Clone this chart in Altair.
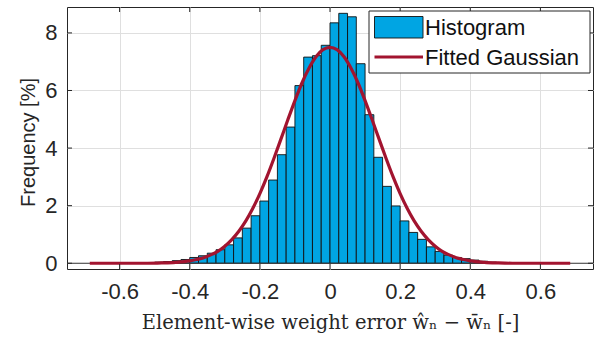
import altair as alt
import pandas as pd

# ---- data ----
bin_left = [-0.500, -0.475, -0.450, -0.425, -0.400, -0.375, -0.350, -0.325,
            -0.300, -0.275, -0.250, -0.225, -0.200, -0.175, -0.150, -0.125,
            -0.100, -0.075, -0.050, -0.025, 0.000, 0.025, 0.050, 0.075,
            0.100, 0.125, 0.150, 0.175, 0.200, 0.225, 0.250, 0.275,
            0.300, 0.325, 0.350, 0.375, 0.400, 0.425, 0.450, 0.475]
bin_right = [-0.475, -0.450, -0.425, -0.400, -0.375, -0.350, -0.325, -0.300,
             -0.275, -0.250, -0.225, -0.200, -0.175, -0.150, -0.125, -0.100,
             -0.075, -0.050, -0.025, 0.000, 0.025, 0.050, 0.075, 0.100,
             0.125, 0.150, 0.175, 0.200, 0.225, 0.250, 0.275, 0.300,
             0.325, 0.350, 0.375, 0.400, 0.425, 0.450, 0.475, 0.500]
freq = [0.04, 0.06, 0.09, 0.13, 0.20, 0.26, 0.35, 0.47,
        0.64, 0.88, 1.22, 1.65, 2.16, 2.89, 3.77, 4.73,
        6.17, 7.16, 7.21, 7.57, 8.35, 8.68, 8.56, 6.93,
        5.16, 3.68, 2.67, 1.99, 1.47, 1.07, 0.83, 0.57,
        0.41, 0.28, 0.20, 0.16, 0.11, 0.07, 0.04, 0.02]

gauss_x = [-0.685, -0.60, -0.52, -0.48, -0.44, -0.40, -0.38, -0.36, -0.34,
           -0.32, -0.30, -0.28, -0.26, -0.24, -0.22, -0.20, -0.18, -0.16,
           -0.14, -0.12, -0.10, -0.08, -0.06, -0.04, -0.02, 0.00,
           0.02, 0.04, 0.06, 0.08, 0.10, 0.12, 0.14, 0.16, 0.18, 0.20,
           0.22, 0.24, 0.26, 0.28, 0.30, 0.32, 0.34, 0.36, 0.38, 0.40,
           0.44, 0.48, 0.52, 0.60, 0.685]
gauss_y = [0.00, 0.00, 0.00, 0.01, 0.03, 0.08, 0.13, 0.19, 0.29,
           0.41, 0.59, 0.82, 1.11, 1.47, 1.91, 2.42, 3.00, 3.64,
           4.31, 4.99, 5.65, 6.26, 6.77, 7.17, 7.42, 7.50,
           7.42, 7.17, 6.77, 6.26, 5.65, 4.99, 4.31, 3.64, 3.00, 2.42,
           1.91, 1.47, 1.11, 0.82, 0.59, 0.41, 0.29, 0.19, 0.13, 0.08,
           0.03, 0.01, 0.00, 0.00, 0.00]

x_ticks = [-0.6, -0.4, -0.2, 0.0, 0.2, 0.4, 0.6]
y_ticks = [0, 2, 4, 6, 8]
legend_labels = ["Histogram", "Fitted Gaussian"]

# ---- layout / style ----
W, H = 526, 262
TXT = "#262626"
BAR = "#00A5E3"
RED = "#A2142F"
GRID = "#dfdfdf"

xs = alt.Scale(domain=[-0.75, 0.75], nice=False, zero=False)
ys = alt.Scale(domain=[-0.2, 8.9], nice=False, zero=False)

x_axis = alt.Axis(
    values=x_ticks, grid=True, gridColor=GRID, gridWidth=1, domain=False,
    ticks=False, tickSize=0, labelPadding=12, labelFont="Liberation Sans",
    labelFontSize=22, labelColor=TXT,
    labelExpr="datum.value == 0 ? '0' : (datum.value < 0 ? '-' + format(-datum.value, '.1f') : format(datum.value, '.1f'))",
    title="Element-wise weight error ŵₙ − w̄ₙ [-]",
    titleFont="DejaVu Serif", titleFontSize=19.5, titleFontWeight="normal",
    titleColor=TXT, titleX=W / 2, titleY=53, titleBaseline="middle",
    titleAlign="center",
)
y_axis = alt.Axis(
    values=y_ticks, grid=True, gridColor=GRID, gridWidth=1, domain=False,
    ticks=False, tickSize=0, labelPadding=10, labelFont="Liberation Sans",
    labelFontSize=22, labelColor=TXT,
    title="Frequency [%]", titleFont="Liberation Sans", titleFontSize=20,
    titleFontWeight="normal", titleColor=TXT, titleX=-39, titleY=H / 2 + 4,
    titleAngle=-90, titleBaseline="middle", titleAlign="center",
)

bars_df = pd.DataFrame({"x0": bin_left, "x1": bin_right, "f": freq})
bars = alt.Chart(bars_df).mark_bar(
    fill=BAR, stroke="#111111", strokeWidth=0.9, cornerRadius=0
).encode(
    x=alt.X("x0:Q", scale=xs, axis=x_axis),
    x2="x1:Q",
    y=alt.Y("f:Q", scale=ys, axis=y_axis),
    y2=alt.datum(0),
)

base_rule = alt.Chart(pd.DataFrame({"y": [0]})).mark_rule(
    color="#3a3a3a", strokeWidth=1.2
).encode(y=alt.Y("y:Q", scale=ys), x=alt.value(0), x2=alt.value(W))

gauss_df = pd.DataFrame({"x": gauss_x, "y": gauss_y})
gauss = alt.Chart(gauss_df).mark_line(
    color=RED, strokeWidth=3.2, interpolate="monotone"
).encode(x=alt.X("x:Q", scale=xs), y=alt.Y("y:Q", scale=ys))

# inward ticks on all four sides (box on)
xt_df = pd.DataFrame({"t": x_ticks})
yt_df = pd.DataFrame({"t": y_ticks})
tick_bottom = alt.Chart(xt_df).mark_rule(color=TXT, strokeWidth=1).encode(
    x=alt.X("t:Q", scale=xs), y=alt.value(H), y2=alt.value(H - 5))
tick_top = alt.Chart(xt_df).mark_rule(color=TXT, strokeWidth=1).encode(
    x=alt.X("t:Q", scale=xs), y=alt.value(0), y2=alt.value(5))
tick_left = alt.Chart(yt_df).mark_rule(color=TXT, strokeWidth=1).encode(
    y=alt.Y("t:Q", scale=ys), x=alt.value(0), x2=alt.value(5))
tick_right = alt.Chart(yt_df).mark_rule(color=TXT, strokeWidth=1).encode(
    y=alt.Y("t:Q", scale=ys), x=alt.value(W - 5), x2=alt.value(W))

# legend (drawn manually)
one = pd.DataFrame({"a": [0]})
leg_box = alt.Chart(one).mark_rect(fill="white", stroke=TXT, strokeWidth=1).encode(
    x=alt.value(302), x2=alt.value(523), y=alt.value(4), y2=alt.value(66))
leg_sw = alt.Chart(one).mark_rect(fill=BAR, stroke="#111111", strokeWidth=0.9).encode(
    x=alt.value(307.5), x2=alt.value(356), y=alt.value(9.5), y2=alt.value(31))
leg_line = alt.Chart(one).mark_rule(color=RED, strokeWidth=3.2).encode(
    x=alt.value(307.5), x2=alt.value(356), y=alt.value(50))
leg_t1 = alt.Chart(one).mark_text(
    align="left", baseline="middle", font="Liberation Sans", fontSize=22, color="#111111"
).encode(x=alt.value(358), y=alt.value(21), text=alt.value(legend_labels[0]))
leg_t2 = alt.Chart(one).mark_text(
    align="left", baseline="middle", font="Liberation Sans", fontSize=22, color="#111111"
).encode(x=alt.value(358), y=alt.value(51), text=alt.value(legend_labels[1]))

chart = alt.layer(
    bars, base_rule, gauss, tick_bottom, tick_top, tick_left, tick_right,
    leg_box, leg_sw, leg_line, leg_t1, leg_t2
).properties(
    width=W, height=H,
    padding={"left": 67, "top": 7, "right": 10, "bottom": 71},
    autosize=alt.AutoSizeParams(type="none"),
    background="white",
).configure_view(
    stroke=TXT, strokeWidth=1
)

chart.save("out.html", embed_options={"renderer": "svg", "actions": False})
